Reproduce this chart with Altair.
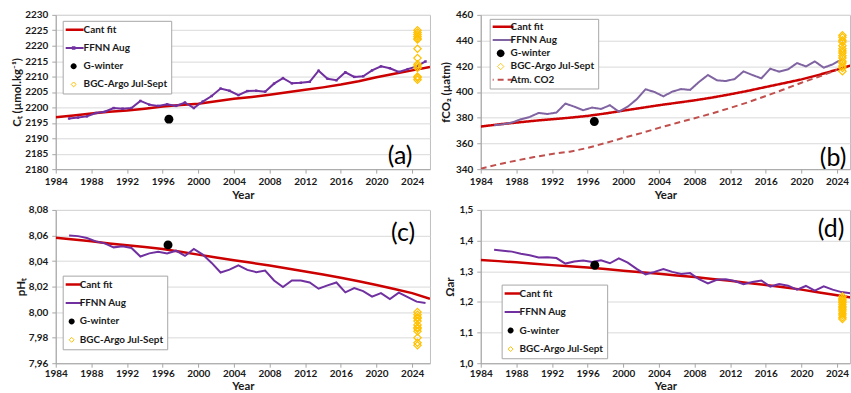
import altair as alt
import pandas as pd

FONT = "Lato"
RED = "#CC0000"
PURPLE = "#7030A0"
PURPLE_B = "#8064A2"
ATM = "#C0504D"
GOLD = "#FFC000"
TEXT = "#1a1a1a"

# x positions
cant_years = [1984, 1986, 1988, 1990, 1992, 1994, 1996, 1998, 2000, 2002, 2004,
              2006, 2008, 2010, 2012, 2014, 2016, 2018, 2020, 2022, 2024, 2026]
ffnn_years = [1985.5 + i for i in range(41)]
atm_years = cant_years[:-1]
x_ticks = [1984, 1988, 1992, 1996, 2000, 2004, 2008, 2012, 2016, 2020, 2024]
argo_year = 2024.6

# (a) dissolved inorganic carbon
ct_cant = [2196.8, 2197.4, 2198.0, 2198.6, 2199.0, 2199.6, 2200.3, 2200.8, 2201.2, 2202.0, 2202.8,
           2203.4, 2204.1, 2204.9, 2205.7, 2206.5, 2207.4, 2208.5, 2209.8, 2210.9, 2212.0, 2213.1]
ct_ffnn = [2196.4, 2196.7, 2197.1, 2198.2, 2198.6, 2199.8, 2199.6, 2199.8, 2202.1, 2200.9,
           2200.5, 2201.0, 2200.5, 2201.6, 2199.8, 2201.9, 2203.7, 2206.1, 2205.4, 2204.0,
           2205.3, 2205.4, 2205.1, 2207.7, 2209.5, 2207.8, 2208.0, 2208.3, 2211.9, 2209.3,
           2208.8, 2211.4, 2209.9, 2210.1, 2212.0, 2213.3, 2212.7, 2211.5, 2212.4, 2213.3, 2214.9]
ct_winter = (1996.7, 2196.2)
ct_argo = [2225.0, 2224.3, 2223.6, 2223.0, 2222.4, 2222.0, 2219.0, 2216.0, 2214.0, 2213.4,
           2212.8, 2210.0, 2209.6, 2209.0]
ct_ticks = [2180, 2185, 2190, 2195, 2200, 2205, 2210, 2215, 2220, 2225, 2230]

# (b) fCO2
fco2_cant = [373.1, 374.8, 376.2, 377.6, 378.8, 380.0, 381.4, 383.3, 385.5, 387.6, 389.7,
             391.6, 393.5, 395.7, 398.2, 400.9, 403.9, 406.8, 409.8, 413.4, 417.4, 421.6]
fco2_ffnn = [374.1, 374.9, 376.2, 378.8, 380.6, 383.7, 382.9, 384.0, 391.0, 388.6,
             385.8, 387.9, 386.8, 389.7, 384.7, 388.6, 394.3, 402.1, 400.0, 396.6,
             400.3, 402.3, 401.6, 407.8, 413.2, 409.1, 408.5, 410.1, 416.0, 413.2,
             410.6, 418.1, 415.8, 417.6, 422.5, 419.9, 423.8, 418.9, 421.5, 425.3]
fco2_atm = [340.3, 343.8, 346.7, 349.4, 351.8, 353.6, 356.5, 360.3, 364.3, 368.0, 372.1,
            375.9, 379.6, 383.4, 387.6, 392.0, 396.9, 401.9, 407.2, 412.0, 417.2]
fco2_winter = (1996.75, 377.0)
fco2_argo = [444.1, 442.5, 440.2, 438.8, 436.0, 433.7, 431.9, 430.4, 428.1, 426.5,
             424.0, 422.6, 420.3, 418.7, 416.2]
fco2_ticks = [340, 360, 380, 400, 420, 440, 460]

# (c) pH
ph_cant = [8.0582, 8.0568, 8.0554, 8.0538, 8.0523, 8.0509, 8.0494, 8.0473, 8.0450, 8.0428, 8.0406,
           8.0386, 8.0365, 8.0342, 8.0318, 8.0295, 8.0269, 8.0241, 8.0212, 8.0181, 8.0149, 8.0105]
ph_ffnn = [8.0600, 8.0595, 8.0580, 8.0554, 8.0538, 8.0507, 8.0515, 8.0502, 8.0435, 8.0460,
           8.0473, 8.0460, 8.0481, 8.0440, 8.0494, 8.0450, 8.0385, 8.0310, 8.0333, 8.0367,
           8.0331, 8.0313, 8.0326, 8.0248, 8.0196, 8.0248, 8.0248, 8.0232, 8.0183, 8.0209,
           8.0232, 8.0155, 8.0188, 8.0165, 8.0121, 8.0149, 8.0103, 8.0152, 8.0118, 8.0082, 8.0072]
ph_winter = (1996.6, 8.0525)
ph_argo = [8.000, 7.998, 7.996, 7.995, 7.993, 7.990, 7.988, 7.987, 7.985, 7.980, 7.976, 7.974]
ph_ticks = [7.96, 7.98, 8.00, 8.02, 8.04, 8.06, 8.08]

# (d) aragonite saturation
om_cant = [1.337, 1.333, 1.329, 1.3245, 1.320, 1.316, 1.312, 1.307, 1.302, 1.297, 1.292,
           1.2865, 1.281, 1.275, 1.269, 1.262, 1.255, 1.248, 1.240, 1.231, 1.222, 1.212]
om_ffnn = [1.370, 1.367, 1.364, 1.357, 1.352, 1.345, 1.346, 1.343, 1.325, 1.332,
           1.335, 1.330, 1.336, 1.326, 1.342, 1.328, 1.308, 1.290, 1.298, 1.307,
           1.298, 1.291, 1.294, 1.274, 1.260, 1.272, 1.274, 1.268, 1.258, 1.265,
           1.270, 1.250, 1.258, 1.253, 1.240, 1.252, 1.237, 1.251, 1.240, 1.232, 1.228]
om_winter = (1996.8, 1.3197)
om_argo = [1.218, 1.212, 1.207, 1.203, 1.198, 1.192, 1.186, 1.181, 1.176, 1.170,
           1.163, 1.157, 1.150, 1.144]
om_ticks = [1.0, 1.1, 1.2, 1.3, 1.4, 1.5]

# legend / point symbols (unit-box paths)
LINE = "M-1,0H1"
LINE_MARK = "M-1,0H1M-0.08,-0.08H0.08V0.08H-0.08Z"
DOT = "M-0.3,0A0.3,0.3 0 1,0 0.3,0A0.3,0.3 0 1,0 -0.3,0Z"
DIAMOND = "M0,-0.247L0.247,0L0,0.247L-0.247,0Z"
PT_SIZE = 900

LEG_WIDTH = ("datum.value === 'Cant fit' ? 2.5 : datum.value === 'BGC-Argo Jul-Sept' ? 1 : "
             "datum.value === 'G-winter' ? 0 : 2")
LEG_FILL = "datum.value === 'G-winter' ? '#000000' : 'transparent'"


def long_lines(name, xs, ys):
    return pd.DataFrame({"series": name, "year": xs, "value": ys})


def panel(lines, winter, argo, names, strokes, shapes, dashes, xmax, width, height,
          ydom, yticks, label_expr, ytitle, ytitle_pad, xpad, letter, letter_xy, leg,
          markers=None):
    legend = alt.Legend(
        title=None, orient="none", legendX=leg["x"], legendY=leg["y"],
        fillColor="white", strokeColor="#A6A6A6", padding=3,
        symbolSize=leg["size"], clipHeight=leg["clip"], rowPadding=leg["row"],
        symbolOffset=leg["so"], labelOffset=leg["lo"],
        symbolStrokeWidth={"expr": LEG_WIDTH}, symbolFillColor={"expr": LEG_FILL},
        labelFont=FONT, labelFontSize=10, labelFontWeight="bold", labelColor=TEXT,
    )
    x = alt.X("year:Q", scale=alt.Scale(domain=[1984, xmax], nice=False, zero=False),
              axis=alt.Axis(values=x_ticks, format="d", title="Year", grid=False,
                            tickSize=4, labelPadding=xpad[0], titlePadding=xpad[1],
                            labelFlush=False))
    y = alt.Y("value:Q", scale=alt.Scale(domain=ydom, nice=False, zero=False),
              axis=alt.Axis(values=yticks, labelExpr=label_expr, title=ytitle, grid=True,
                            tickSize=4, labelPadding=4, titlePadding=ytitle_pad))
    stroke = alt.Stroke("series:N", scale=alt.Scale(domain=names, range=strokes), legend=legend)
    shape = alt.Shape("series:N", scale=alt.Scale(domain=names, range=shapes), legend=legend)

    layers = []
    for name, df in lines:
        enc = dict(x=x, y=y, stroke=stroke,
                   strokeWidth=alt.value(2.5 if name == "Cant fit" else 2))
        if dashes is not None:
            enc["strokeDash"] = alt.StrokeDash(
                "series:N", scale=alt.Scale(domain=names, range=dashes), legend=legend)
        layers.append(alt.Chart(df).mark_line(opacity=1, clip=True).encode(**enc))
    if markers is not None:
        layers.append(
            alt.Chart(markers).mark_point(shape="square", filled=True, size=6, opacity=1,
                                          color=PURPLE).encode(x=x, y=y))
    layers.append(
        alt.Chart(pd.DataFrame({"series": ["G-winter"], "year": [winter[0]], "value": [winter[1]]}))
        .mark_point(filled=True, size=PT_SIZE, opacity=1)
        .encode(x=x, y=y, stroke=stroke, shape=shape, fill=alt.value("#000000"),
                strokeWidth=alt.value(0)))
    layers.append(
        alt.Chart(pd.DataFrame({"series": "BGC-Argo Jul-Sept", "year": argo_year, "value": argo}))
        .mark_point(filled=False, size=PT_SIZE, opacity=1)
        .encode(x=x, y=y, stroke=stroke, shape=shape, strokeWidth=alt.value(1.2)))
    layers.append(
        alt.Chart(pd.DataFrame({"t": [letter]})).mark_text(
            font=FONT, fontSize=25, color="#000000", align="center", baseline="middle", clip=True)
        .encode(text="t:N", x=alt.value(letter_xy[0]), y=alt.value(letter_xy[1])))
    return alt.layer(*layers).properties(width=width, height=height)


names_a = ["Cant fit", "FFNN Aug", "G-winter", "BGC-Argo Jul-Sept"]
names_b = ["Cant fit", "FFNN Aug", "G-winter", "BGC-Argo Jul-Sept", "Atm. CO2"]
LEFT_W, RIGHT_W = 376, 371
LEFT_MAX, RIGHT_MAX = 2026, 2025.45
TOP_XPAD, BOTTOM_XPAD = (3, 4), (1, 2)


def two_lines(cant, ffnn):
    return [("Cant fit", long_lines("Cant fit", cant_years, cant)),
            ("FFNN Aug", long_lines("FFNN Aug", ffnn_years, ffnn))]


pa = panel(
    two_lines(ct_cant, ct_ffnn), ct_winter, ct_argo, names_a,
    [RED, PURPLE, "#000000", GOLD], [LINE, LINE_MARK, DOT, DIAMOND], None,
    LEFT_MAX, LEFT_W, 155,
    [2180, 2230], ct_ticks, "format(datum.value, 'd')", "Cₜ (µmol.kg⁻¹)", 2, TOP_XPAD,
    "(a)", (346, 142), dict(x=7, y=6, size=400, clip=12, row=6.3, so=3, lo=5),
    markers=pd.DataFrame({"year": ffnn_years, "value": ct_ffnn}),
)
pb = panel(
    [("Cant fit", long_lines("Cant fit", cant_years, fco2_cant)),
     ("FFNN Aug", long_lines("FFNN Aug", ffnn_years[:-1], fco2_ffnn)),
     ("Atm. CO2", long_lines("Atm. CO2", atm_years, fco2_atm))],
    fco2_winter, fco2_argo, names_b,
    [RED, PURPLE_B, "#000000", GOLD, ATM], [LINE, LINE, DOT, DIAMOND, LINE],
    [[1, 0], [1, 0], [1, 0], [1, 0], [6, 4]],
    RIGHT_MAX, RIGHT_W, 155,
    [340, 460], fco2_ticks, "format(datum.value, 'd')", "fCO₂ (µatm)", 4, TOP_XPAD,
    "(b)", (354, 144), dict(x=9, y=4, size=676, clip=10, row=3.3, so=3, lo=5),
)
pc = panel(
    two_lines(ph_cant, ph_ffnn), ph_winter, ph_argo, names_a,
    [RED, PURPLE, "#000000", GOLD], [LINE, LINE, DOT, DIAMOND], None,
    LEFT_MAX, LEFT_W, 154,
    [7.96, 8.08], ph_ticks, "replace(format(datum.value, '.2f'), '.', ',')", "pHₜ", 2,
    BOTTOM_XPAD,
    "(c)", (349, 23), dict(x=7, y=66, size=400, clip=12, row=6.5, so=1, lo=3),
)
pd_ = panel(
    two_lines(om_cant, om_ffnn), om_winter, om_argo, names_a,
    [RED, PURPLE, "#000000", GOLD], [LINE, LINE, DOT, DIAMOND], None,
    RIGHT_MAX, RIGHT_W, 154,
    [1.0, 1.5], om_ticks, "replace(format(datum.value, '.1f'), '.', ',')", "Ωar", 3,
    BOTTOM_XPAD,
    "(d)", (352, 19), dict(x=21, y=75, size=400, clip=12, row=6.6, so=1, lo=4),
)

chart = (
    alt.concat(pa, pb, pc, pd_, columns=2, spacing={"row": 2, "column": 9})
    .resolve_scale(stroke="independent", shape="independent", strokeDash="independent",
                   x="independent", y="independent")
    .resolve_legend(stroke="independent", shape="independent", strokeDash="independent")
    .properties(padding={"left": 11, "top": 8, "right": 0, "bottom": 0}, background="white")
    .configure_view(stroke="#BFBFBF", strokeWidth=1)
    .configure_axis(
        labelFont=FONT, labelFontSize=10, labelFontWeight="bold", labelColor=TEXT,
        titleFont=FONT, titleFontSize=11.5, titleFontWeight="bold", titleColor=TEXT,
        domainColor="#A6A6A6", tickColor="#A6A6A6", gridColor="#D9D9D9",
    )
)

chart.save("out.html", embed_options={"renderer": "svg", "actions": False})
